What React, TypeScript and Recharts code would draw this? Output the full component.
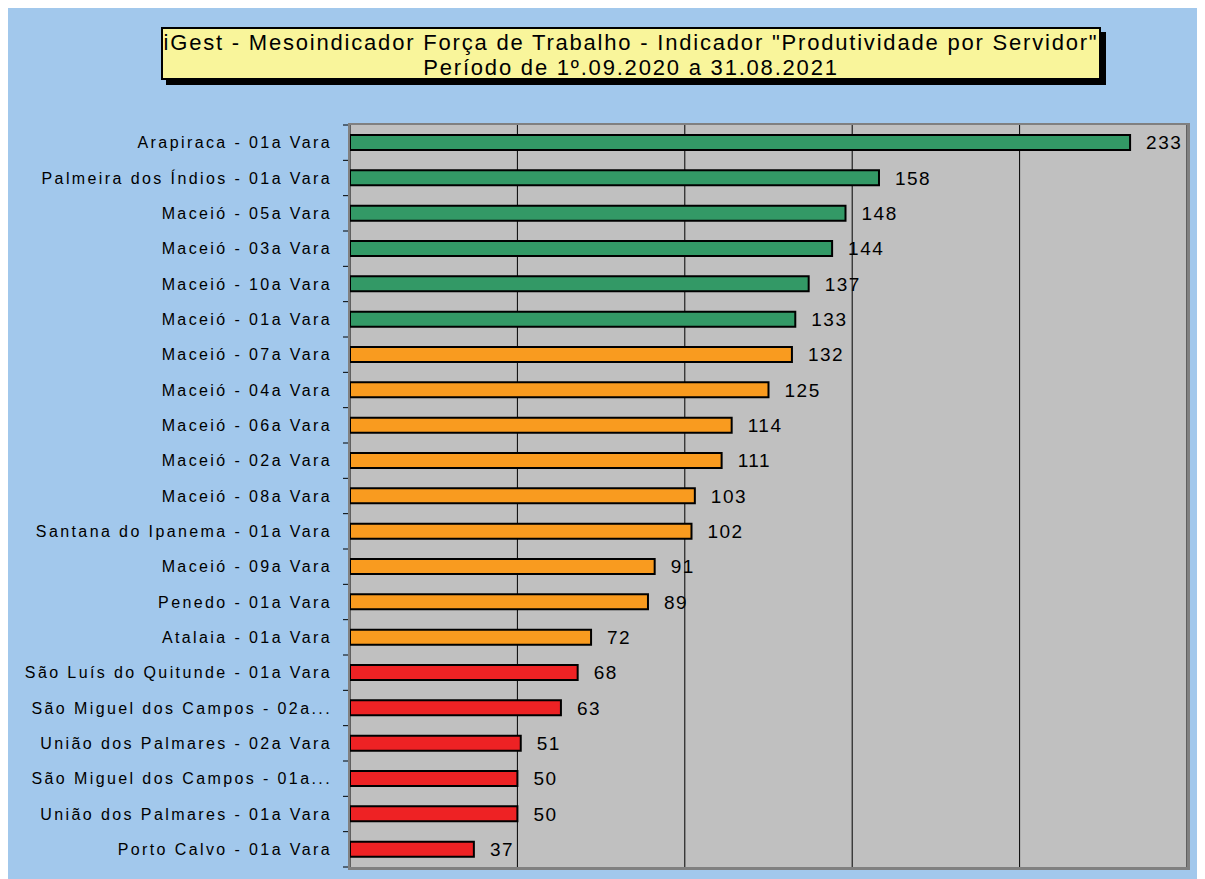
import React from 'react'
import { BarChart, Bar, XAxis, YAxis, CartesianGrid, Cell, LabelList } from 'recharts'

const varas = [
  'Arapiraca - 01a Vara',
  'Palmeira dos Índios - 01a Vara',
  'Maceió - 05a Vara',
  'Maceió - 03a Vara',
  'Maceió - 10a Vara',
  'Maceió - 01a Vara',
  'Maceió - 07a Vara',
  'Maceió - 04a Vara',
  'Maceió - 06a Vara',
  'Maceió - 02a Vara',
  'Maceió - 08a Vara',
  'Santana do Ipanema - 01a Vara',
  'Maceió - 09a Vara',
  'Penedo - 01a Vara',
  'Atalaia - 01a Vara',
  'São Luís do Quitunde - 01a Vara',
  'São Miguel dos Campos - 02a...',
  'União dos Palmares - 02a Vara',
  'São Miguel dos Campos - 01a...',
  'União dos Palmares - 01a Vara',
  'Porto Calvo - 01a Vara',
]

const produtividade = [233, 158, 148, 144, 137, 133, 132, 125, 114, 111, 103, 102, 91, 89, 72, 68, 63, 51, 50, 50, 37]

const faixas = [
  'alta', 'alta', 'alta', 'alta', 'alta', 'alta',
  'media', 'media', 'media', 'media', 'media', 'media', 'media', 'media', 'media',
  'baixa', 'baixa', 'baixa', 'baixa', 'baixa', 'baixa',
]

const escalaX = [0, 50, 100, 150, 200, 250]

const corFaixa: Record<string, string> = {
  alta: '#339966',
  media: '#F99B1F',
  baixa: '#EE2224',
}

const dados = varas.map((vara, i) => ({ vara, valor: produtividade[i], faixa: faixas[i] }))

const fonte = '"Liberation Sans", Arial, sans-serif'
const margemRotulo = 18

// rótulo da vara + traços do eixo nas divisões entre categorias
const TickVara = (props: any) => {
  const { x, y, payload, index } = props
  const meia = payload.offset || 0
  const borda = x + margemRotulo
  const ultimo = index === varas.length - 1
  return (
    <g>
      <text
        x={x}
        y={y}
        dy="0.36em"
        textAnchor="end"
        fill="#000"
        fontSize={16}
        fontFamily={fonte}
        letterSpacing={2.4}
      >
        {payload.value}
      </text>
      <line x1={borda - 7} x2={borda} y1={y - meia} y2={y - meia} stroke="#000" />
      {ultimo && <line x1={borda - 7} x2={borda} y1={y + meia} y2={y + meia} stroke="#000" />}
    </g>
  )
}

export default function App() {
  return (
    <div
      style={{
        position: 'relative',
        width: 1197,
        height: 872,
        margin: '-1px 0 0 -1px',
        background: '#A2C8EC',
        borderLeft: '1px solid #000',
        fontFamily: fonte,
      }}
    >
      <BarChart
        width={1197}
        height={872}
        data={dados}
        layout="vertical"
        barSize={15}
        margin={{ top: 118, right: 18, bottom: 12, left: 0 }}
      >
        <CartesianGrid horizontal={false} stroke="#000" strokeOpacity={1} fill="#C0C0C0" fillOpacity={1} />
        <XAxis type="number" domain={[0, 250]} ticks={escalaX} hide />
        <YAxis
          type="category"
          dataKey="vara"
          width={342}
          interval={0}
          tickLine={false}
          axisLine={false}
          tickSize={0}
          tickMargin={margemRotulo}
          tick={<TickVara />}
        />
        <Bar dataKey="valor" stroke="#000" strokeWidth={2} isAnimationActive={false}>
          {dados.map((d) => (
            <Cell key={d.vara} fill={corFaixa[d.faixa]} />
          ))}
          <LabelList
            dataKey="valor"
            position="right"
            offset={16}
            fill="#000"
            fontSize={19}
            fontFamily={fonte}
            letterSpacing={1.5}
          />
        </Bar>
      </BarChart>

      <div
        style={{
          position: 'absolute',
          left: 340,
          top: 116,
          width: 842,
          height: 747,
          boxSizing: 'border-box',
          borderTop: '2px solid #808080',
          borderLeft: '2px solid #808080',
          borderRight: '3px solid #808080',
          borderBottom: '3px solid #808080',
          pointerEvents: 'none',
        }}
      />

      <div
        style={{
          position: 'absolute',
          left: 153,
          top: 20,
          width: 940,
          height: 53,
          boxSizing: 'border-box',
          background: '#F9F59B',
          border: '2px solid #000',
          boxShadow: '5px 5px 0 #000',
          textAlign: 'center',
          fontSize: 22,
          lineHeight: '25px',
          letterSpacing: 1.8,
          paddingTop: 1,
          color: '#000',
          whiteSpace: 'nowrap',
        }}
      >
        <div>iGest - Mesoindicador Força de Trabalho - Indicador "Produtividade por Servidor"</div>
        <div>Período de 1º.09.2020 a 31.08.2021</div>
      </div>
    </div>
  )
}
